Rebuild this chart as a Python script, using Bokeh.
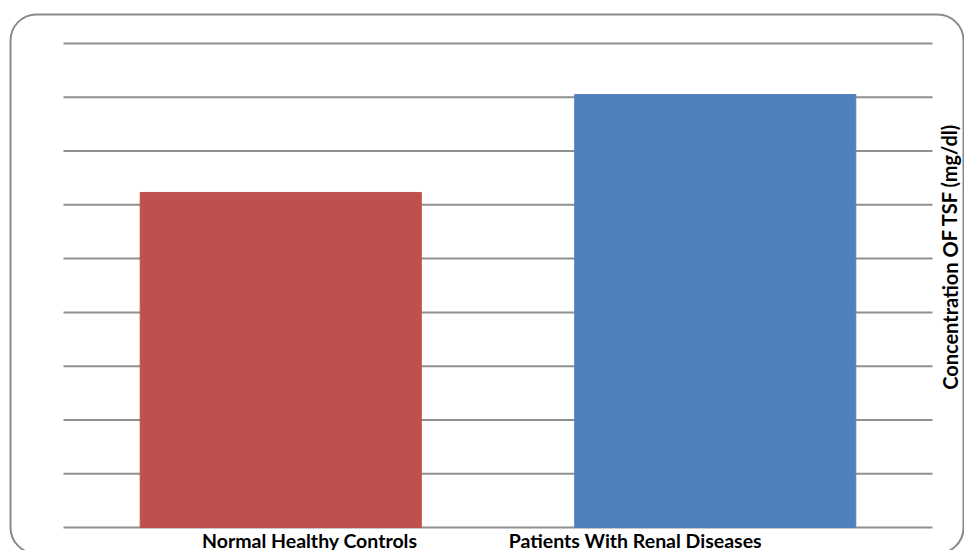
from bokeh.plotting import figure
from bokeh.models import Range1d, Label, LabelSet, ColumnDataSource, BoxAnnotation
from bokeh.core.properties import value
from bokeh.embed import file_html
from bokeh.resources import INLINE

# TSF concentration by group (mg/dl, in grid-step units)
groups = ["Normal Healthy Controls", "Patients With Renal Diseases"]
tsf_values = [6.23, 8.05]
bar_colors = ["#C0504D", "#4F81BD"]
grid_steps = list(range(0, 10))
axis_title = "Concentration OF TSF (mg/dl)"

FONT = "Lato"
W, H = 964, 550
# plotting area inside the canvas (pixels)
PL, PR, PT, PB = 63, 932, 43, 527

n = len(groups)
top = grid_steps[-1]
ux = (PR - PL) / n
uy = (PB - PT) / top
x_range = Range1d(-PL / ux, n + (W - PR) / ux)
y_range = Range1d(-(H - PB) / uy, top + PT / uy)

p = figure(width=W, height=H, output_backend="svg", toolbar_location=None,
           x_range=x_range, y_range=y_range, x_axis_type=None, y_axis_type=None,
           min_border=0)
p.background_fill_color = "white"
p.border_fill_color = "white"
p.outline_line_color = None
p.grid.visible = False

# horizontal gridlines across the plotting area
p.segment(x0=[0] * len(grid_steps), x1=[n] * len(grid_steps),
          y0=grid_steps, y1=grid_steps, line_color="#8f8f8f", line_width=2)

xs = [i + 0.5 for i in range(n)]
src = ColumnDataSource(dict(x=xs, top=tsf_values, color=bar_colors, name=groups,
                            y=[0] * n, dx=[29, -80]))
p.vbar(x="x", top="top", width=0.647, bottom=0, color="color", source=src)

# category names under the bars
p.add_layout(LabelSet(x="x", y="y", text="name", x_offset="dx", y_offset=-20,
                      source=src, text_align="center", text_baseline="alphabetic",
                      text_font=value(FONT), text_font_style="bold",
                      text_font_size="19.5px", text_color="black"))

# value axis title on the right side
p.add_layout(Label(x=n + 17 / ux, y=(PB - 256) / uy, text=axis_title, angle=1.5708,
                   text_align="center", text_baseline="middle",
                   text_font=FONT, text_font_style="bold", text_font_size="20px",
                   text_color="black"))

# rounded chart-area border
p.add_layout(BoxAnnotation(left=-53 / ux, right=n + 31 / ux,
                           bottom=-26 / uy, top=top + 29 / uy,
                           fill_alpha=0, line_color="#8a8a8a", line_alpha=1,
                           line_width=2, border_radius=26, level="overlay"))

open("out.html", "w").write(file_html(p, INLINE))
